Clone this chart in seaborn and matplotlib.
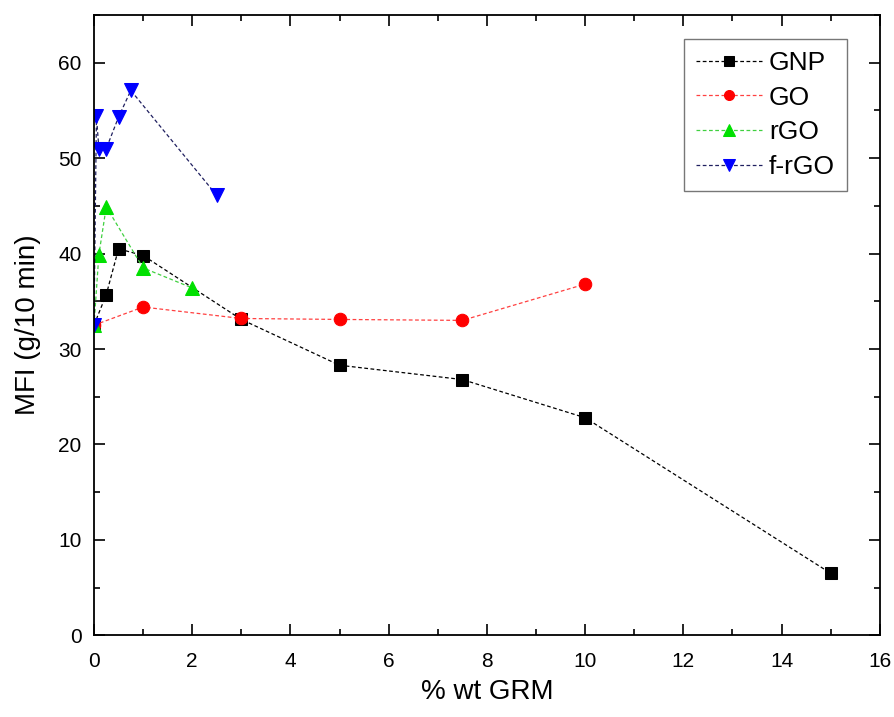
import numpy as np
import pandas as pd
import matplotlib
matplotlib.use("Agg")
import matplotlib.pyplot as plt
import seaborn as sns
from matplotlib.ticker import MultipleLocator

# data
gnp_x = [0, 0.25, 0.5, 1, 3, 5, 7.5, 10, 15]
gnp_y = [32.5, 35.7, 40.5, 39.8, 33.1, 28.3, 26.8, 22.8, 6.5]

go_x = [0, 1, 3, 5, 7.5, 10]
go_y = [32.5, 34.4, 33.2, 33.1, 33.0, 36.8]

rgo_x = [0, 0.1, 0.25, 1, 2]
rgo_y = [32.5, 39.9, 44.9, 38.5, 36.4]

frgo_x = [0, 0.05, 0.1, 0.25, 0.5, 0.75, 2.5]
frgo_y = [32.5, 54.4, 51.0, 51.0, 54.3, 57.1, 46.1]

series = [
    ("GNP", gnp_x, gnp_y, "s", 8.5, "black", "black"),
    ("GO", go_x, go_y, "o", 9, "#ff0000", "#ff4040"),
    ("rGO", rgo_x, rgo_y, "^", 10, "#00e000", "#40d040"),
    ("f-rGO", frgo_x, frgo_y, "v", 10, "#0000ff", "#202060"),
]

sns.set_style("ticks")
plt.rcParams["font.family"] = ["Liberation Sans", "DejaVu Sans"]
plt.rcParams["text.color"] = "black"
plt.rcParams["axes.labelcolor"] = "black"
plt.rcParams["xtick.color"] = "black"
plt.rcParams["ytick.color"] = "black"

fig = plt.figure(figsize=(8.95, 7.17), dpi=100)
ax = fig.add_axes([0.105, 0.114, 0.878, 0.865])

for name, xs, ys, mk, ms, mc, lc in series:
    df = pd.DataFrame({"x": xs, "y": ys})
    sns.lineplot(data=df, x="x", y="y", ax=ax, sort=False, color=lc,
                 linestyle=(0, (3, 2)), linewidth=0.9, marker=mk,
                 markersize=ms, markerfacecolor=mc, markeredgecolor=mc,
                 label=name)

ax.set_xlim(0, 16)
ax.set_ylim(0, 65)
ax.xaxis.set_major_locator(MultipleLocator(2))
ax.xaxis.set_minor_locator(MultipleLocator(1))
ax.yaxis.set_major_locator(MultipleLocator(10))
ax.yaxis.set_minor_locator(MultipleLocator(5))
ax.tick_params(which="both", direction="in", top=True, right=True,
               labeltop=False, labelright=False, width=1.2, labelsize=15)
ax.tick_params(which="major", length=8)
ax.tick_params(which="minor", length=4)
ax.tick_params(axis="x", which="major", pad=12)
ax.tick_params(axis="y", which="major", pad=9)
for sp in ax.spines.values():
    sp.set_linewidth(1.3)
    sp.set_color("black")

ax.set_xlabel("% wt GRM", fontsize=20, labelpad=6)
ax.set_ylabel("MFI (g/10 min)", fontsize=20, labelpad=12)

leg = ax.legend(loc="upper right", fontsize=19, frameon=True, fancybox=False,
                handlelength=2.5, handletextpad=0.25, borderpad=0.45,
                labelspacing=0.4, markerscale=0.8, borderaxespad=0,
                bbox_to_anchor=(0.958, 0.961))
leg.get_frame().set_edgecolor("#555555")
leg.get_frame().set_linewidth(1.0)

fig.savefig("out.png", dpi=100)
